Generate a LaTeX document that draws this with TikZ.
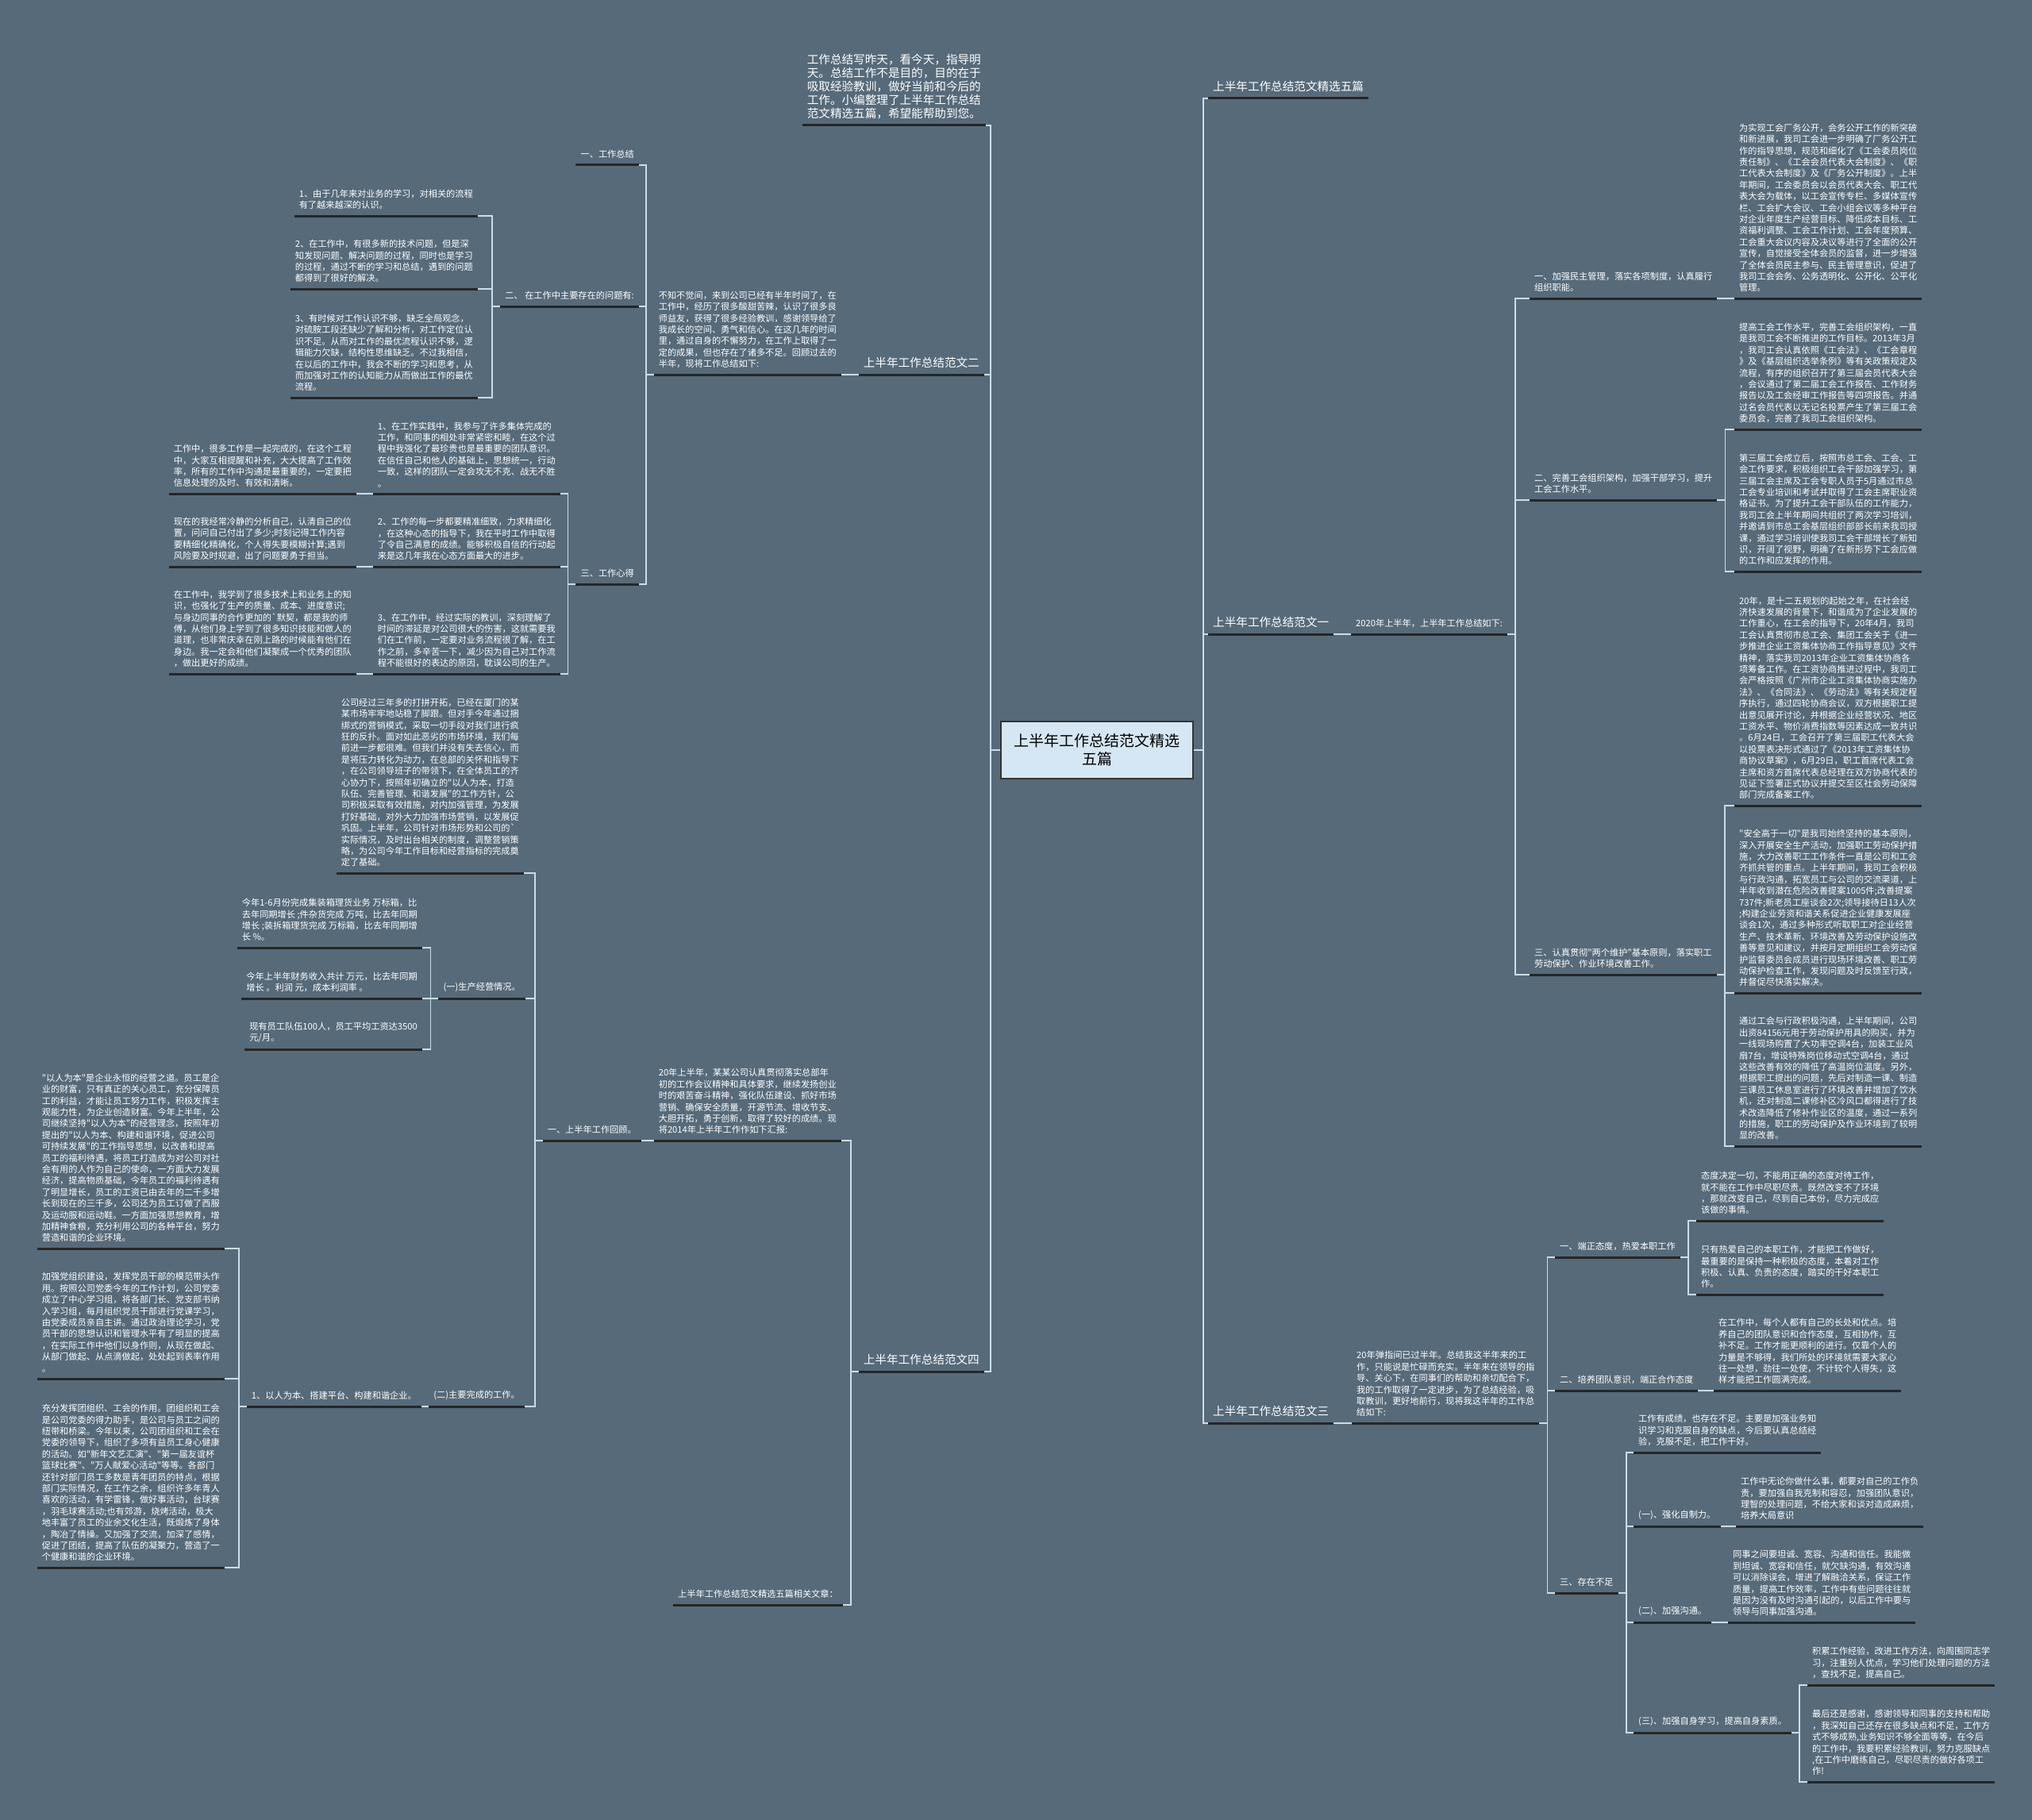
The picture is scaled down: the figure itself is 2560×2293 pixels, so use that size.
\documentclass[tikz,border=0pt]{standalone}
\usepackage{fontspec}
\newfontfamily\cjk{Noto Sans CJK SC}
\definecolor{bgslate}{HTML}{566A7A}
\definecolor{linkblue}{HTML}{C9DDEB}
\definecolor{rootfill}{HTML}{D5E7F4}

\begin{document}
\begin{tikzpicture}[
      x=1pt, y=-1pt,
      txt/.style={text=white, align=left, inner xsep=6pt, inner ysep=8pt,
                  font=\cjk\fontsize{11.2}{14.4}\selectfont},
      big/.style={txt, font=\cjk\fontsize{14.6}{17}\selectfont},
      lft/.style={anchor=south east},
      rgt/.style={anchor=south west},
      root/.style={rectangle, draw=black!80, line width=1.5pt, fill=rootfill,
                   align=center, minimum width=242pt, minimum height=72pt,
                   font=\cjk\fontsize{19}{23}\selectfont},
      uline/.style={line width=3pt, black!85},
      link/.style={line width=1.8pt, linkblue}
    ]
    \fill[bgslate] (0,0) rectangle (2560,2293);
    \useasboundingbox (0,0) rectangle (2560,2293);

    \node[root] (main) at (1382,945) {上半年工作总结范文精选\\五篇};

    % left half
    \node[big, lft] (intro) at (1242,158) {工作总结写昨天，看今天，指导明\\天。总结工作不是目的，目的在于\\吸取经验教训，做好当前和今后的\\工作。小编整理了上半年工作总结\\范文精选五篇，希望能帮助到您。};
    \node[big, lft] (fwtwo) at (1240,472) {上半年工作总结范文二};
    \node[big, lft] (fwfour) at (1240,1728) {上半年工作总结范文四};

    \node[txt, lft] (bzbj) at (1060,472) {不知不觉间，来到公司已经有半年时间了，在\\工作中，经历了很多酸甜苦辣，认识了很多良\\师益友，获得了很多经验教训，感谢领导给了\\我成长的空间、勇气和信心。在这几年的时间\\里，通过自身的不懈努力，在工作上取得了一\\定的成果，但也存在了诸多不足。回顾过去的\\半年，现将工作总结如下:};
    \node[txt, lft] (gzone) at (805,208) {一、工作总结};
    \node[txt, lft] (gztwo) at (805,386) {二、 在工作中主要存在的问题有:};
    \node[txt, lft] (gzthree) at (805,736) {三、工作心得};

    \node[txt, lft] (wtone) at (602,272) {1、由于几年来对业务的学习，对相关的流程\\有了越来越深的认识。};
    \node[txt, lft] (wttwo) at (602,364) {2、在工作中，有很多新的技术问题，但是深\\知发现问题、解决问题的过程，同时也是学习\\的过程，通过不断的学习和总结，遇到的问题\\都得到了很好的解决。};
    \node[txt, lft] (wtthree) at (602,501) {3、有时候对工作认识不够，缺乏全局观念，\\对硫胺工段还缺少了解和分析，对工作定位认\\识不足。从而对工作的最优流程认识不够，逻\\辑能力欠缺，结构性思维缺乏。不过我相信，\\在以后的工作中，我会不断的学习和思考，从\\而加强对工作的认知能力从而做出工作的最优\\流程。};

    \node[txt, lft] (xdone) at (706,622) {1、在工作实践中，我参与了许多集体完成的\\工作，和同事的相处非常紧密和睦，在这个过\\程中我强化了最珍贵也是最重要的团队意识。\\在信任自己和他人的基础上，思想统一，行动\\一致，这样的团队一定会攻无不克、战无不胜\\。};
    \node[txt, lft] (xdtwo) at (706,714) {2、工作的每一步都要精准细致，力求精细化\\，在这种心态的指导下，我在平时工作中取得\\了令自己满意的成绩。能够积极自信的行动起\\来是这几年我在心态方面最大的进步。};
    \node[txt, lft] (xdthree) at (706,849) {3、在工作中，经过实际的教训，深刻理解了\\时间的滞延是对公司很大的伤害，这就需要我\\们在工作前，一定要对业务流程很了解，在工\\作之前，多辛苦一下，减少因为自己对工作流\\程不能很好的表达的原因，耽误公司的生产。};
    \node[txt, lft] (tdone) at (449,622) {工作中，很多工作是一起完成的，在这个工程\\中，大家互相提醒和补充，大大提高了工作效\\率，所有的工作中沟通是最重要的，一定要把\\信息处理的及时、有效和清晰。};
    \node[txt, lft] (tdtwo) at (449,714) {现在的我经常冷静的分析自己，认清自己的位\\置，问问自己付出了多少;时刻记得工作内容\\要精细化精确化，个人得失要模糊计算;遇到\\风险要及时规避，出了问题要勇于担当。};
    \node[txt, lft] (tdthree) at (449,849) {在工作中，我学到了很多技术上和业务上的知\\识，也强化了生产的质量、成本、进度意识;\\与身边同事的合作更加的\textasciigrave 默契，都是我的师\\傅，从他们身上学到了很多知识技能和做人的\\道理，也非常庆幸在刚上路的时候能有他们在\\身边。我一定会和他们凝聚成一个优秀的团队\\，做出更好的成绩。};

    \node[txt, lft] (hbzj) at (1060,1437) {20年上半年，某某公司认真贯彻落实总部年\\初的工作会议精神和具体要求，继续发扬创业\\时的艰苦奋斗精神，强化队伍建设、抓好市场\\营销、确保安全质量，开源节流、增收节支、\\大胆开拓，勇于创新，取得了较好的成绩。现\\将2014年上半年工作作如下汇报:};
    \node[txt, lft] (xgwz) at (1062,2022) {上半年工作总结范文精选五篇相关文章：};
    \node[txt, lft] (hgu) at (808,1437) {一、上半年工作回顾。};
    \node[txt, lft] (gsjg) at (660,1100) {公司经过三年多的打拼开拓，已经在厦门的某\\某市场牢牢地站稳了脚跟。但对手今年通过捆\\绑式的营销模式，采取一切手段对我们进行疯\\狂的反扑。面对如此恶劣的市场环境，我们每\\前进一步都很难。但我们并没有失去信心，而\\是将压力转化为动力，在总部的关怀和指导下\\，在公司领导班子的带领下，在全体员工的齐\\心协力下，按照年初确立的"以人为本，打造\\队伍、完善管理、和谐发展"的工作方针，公\\司积极采取有效措施，对内加强管理，为发展\\打好基础，对外大力加强市场营销，以发展促\\巩固。上半年，公司针对市场形势和公司的\textasciigrave\\实际情况，及时出台相关的制度，调整营销策\\略，为公司今年工作目标和经营指标的完成奠\\定了基础。};
    \node[txt, lft] (scjy) at (662,1258) {(一)生产经营情况。};
    \node[txt, lft] (zywc) at (661,1772) {(二)主要完成的工作。};
    \node[txt, lft] (sjone) at (532,1194) {今年1-6月份完成集装箱理货业务 万标箱，比\\去年同期增长 ;件杂货完成 万吨，比去年同期\\增长 ;装拆箱理货完成 万标箱，比去年同期增\\长 \%。};
    \node[txt, lft] (sjtwo) at (532,1258) {今年上半年财务收入共计 万元，比去年同期\\增长 。利润 元，成本利润率 。};
    \node[txt, lft] (sjthree) at (532,1322) {现有员工队伍100人，员工平均工资达3500\\元/月。};
    \node[txt, lft] (yrwb) at (531,1772) {1、以人为本、搭建平台、构建和谐企业。};
    \node[txt, lft] (hxone) at (283,1573) {"以人为本"是企业永恒的经营之道。员工是企\\业的财富，只有真正的关心员工，充分保障员\\工的利益，才能让员工努力工作，积极发挥主\\观能力性，为企业创造财富。今年上半年，公\\司继续坚持"以人为本"的经营理念，按照年初\\提出的"以人为本、构建和谐环境，促进公司\\可持续发展"的工作指导思想，以改善和提高\\员工的福利待遇，将员工打造成为对公司对社\\会有用的人作为自己的使命，一方面大力发展\\经济，提高物质基础，今年员工的福利待遇有\\了明显增长，员工的工资已由去年的二千多增\\长到现在的三千多，公司还为员工订做了西服\\及运动服和运动鞋。一方面加强思想教育，增\\加精神食粮，充分利用公司的各种平台，努力\\营造和谐的企业环境。};
    \node[txt, lft] (hxtwo) at (283,1737) {加强党组织建设，发挥党员干部的模范带头作\\用。按照公司党委今年的工作计划，公司党委\\成立了中心学习组，将各部门长、党支部书纳\\入学习组，每月组织党员干部进行党课学习，\\由党委成员亲自主讲。通过政治理论学习，党\\员干部的思想认识和管理水平有了明显的提高\\，在实际工作中他们以身作则，从现在做起、\\从部门做起、从点滴做起，处处起到表率作用\\。};
    \node[txt, lft] (hxthree) at (283,1975) {充分发挥团组织、工会的作用。团组织和工会\\是公司党委的得力助手，是公司与员工之间的\\纽带和桥梁。今年以来，公司团组织和工会在\\党委的领导下，组织了多项有益员工身心健康\\的活动。如"新年文艺汇演"、"第一届友谊杯\\篮球比赛"、"万人献爱心活动"等等。各部门\\还针对部门员工多数是青年团员的特点，根据\\部门实际情况，在工作之余，组织许多年青人\\喜欢的活动，有学雷锋，做好事活动，台球赛\\，羽毛球赛活动;也有郊游，烧烤活动，极大\\地丰富了员工的业余文化生活，既煅炼了身体\\，陶冶了情操。又加强了交流，加深了感情，\\促进了团结，提高了队伍的凝聚力，营造了一\\个健康和谐的企业环境。};

    % right half
    \node[big, rgt] (rtitle) at (1522,124) {上半年工作总结范文精选五篇};
    \node[big, rgt] (rone) at (1522,799) {上半年工作总结范文一};
    \node[big, rgt] (rthree) at (1522,1793) {上半年工作总结范文三};
    \node[txt, rgt] (rnian) at (1702,799) {2020年上半年，上半年工作总结如下:};
    \node[txt, rgt] (ra) at (1927,376) {一、加强民主管理，落实各项制度，认真履行\\组织职能。};
    \node[txt, rgt] (rb) at (1927,630) {二、完善工会组织架构，加强干部学习，提升\\工会工作水平。};
    \node[txt, rgt] (rc) at (1927,1228) {三、认真贯彻"两个维护"基本原则，落实职工\\劳动保护、作业环境改善工作。};
    \node[txt, rgt] (raone) at (2185,376) {为实现工会厂务公开，会务公开工作的新突破\\和新进展，我司工会进一步明确了厂务公开工\\作的指导思想，规范和细化了《工会委员岗位\\责任制》、《工会会员代表大会制度》、《职\\工代表大会制度》及《厂务公开制度》。上半\\年期间，工会委员会以会员代表大会、职工代\\表大会为载体，以工会宣传专栏、多媒体宣传\\栏、工会扩大会议、工会小组会议等多种平台\\对企业年度生产经营目标、降低成本目标、工\\资福利调整、工会工作计划、工会年度预算、\\工会重大会议内容及决议等进行了全面的公开\\宣传，自觉接受全体会员的监督，进一步增强\\了全体会员民主参与、民主管理意识，促进了\\我司工会会务、公务透明化、公开化、公平化\\管理。};
    \node[txt, rgt] (rbone) at (2185,541) {提高工会工作水平，完善工会组织架构，一直\\是我司工会不断推进的工作目标。2013年3月\\，我司工会认真依照《工会法》、《工会章程\\》及《基层组织选举条例》等有关政策规定及\\流程，有序的组织召开了第三届会员代表大会\\，会议通过了第二届工会工作报告、工作财务\\报告以及工会经审工作报告等四项报告。并通\\过名会员代表以无记名投票产生了第三届工会\\委员会，完善了我司工会组织架构。};
    \node[txt, rgt] (rbtwo) at (2185,720) {第三届工会成立后，按照市总工会、工会、工\\会工作要求，积极组织工会干部加强学习，第\\三届工会主席及工会专职人员于5月通过市总\\工会专业培训和考试并取得了工会主席职业资\\格证书。为了提升工会干部队伍的工作能力，\\我司工会上半年期间共组织了两次学习培训，\\并邀请到市总工会基层组织部部长前来我司授\\课，通过学习培训使我司工会干部增长了新知\\识，开阔了视野，明确了在新形势下工会应做\\的工作和应发挥的作用。};
    \node[txt, rgt] (rcone) at (2185,1015) {20年，是十二五规划的起始之年，在社会经\\济快速发展的背景下，和谐成为了企业发展的\\工作重心，在工会的指导下，20年4月，我司\\工会认真贯彻市总工会、集团工会关于《进一\\步推进企业工资集体协商工作指导意见》文件\\精神，落实我司2013年企业工资集体协商各\\项筹备工作。在工资协商推进过程中，我司工\\会严格按照《广州市企业工资集体协商实施办\\法》、《合同法》、《劳动法》等有关规定程\\序执行，通过四轮协商会议，双方根据职工提\\出意见展开讨论，并根据企业经营状况、地区\\工资水平、物价消费指数等因素达成一致共识\\。6月24日，工会召开了第三届职工代表大会\\以投票表决形式通过了《2013年工资集体协\\商协议草案》，6月29日，职工首席代表工会\\主席和资方首席代表总经理在双方协商代表的\\见证下签署正式协议并提交至区社会劳动保障\\部门完成备案工作。};
    \node[txt, rgt] (rctwo) at (2185,1251) {"安全高于一切"是我司始终坚持的基本原则，\\深入开展安全生产活动，加强职工劳动保护措\\施，大力改善职工工作条件一直是公司和工会\\齐抓共管的重点。上半年期间，我司工会积极\\与行政沟通，拓宽员工与公司的交流渠道，上\\半年收到潜在危险改善提案1005件;改善提案\\737件;新老员工座谈会2次;领导接待日13人次\\;构建企业劳资和谐关系促进企业健康发展座\\谈会1次，通过多种形式听取职工对企业经营\\生产、技术革新、环境改善及劳动保护设施改\\善等意见和建议，并按月定期组织工会劳动保\\护监督委员会成员进行现场环境改善、职工劳\\动保护检查工作，发现问题及时反馈至行政，\\并督促尽快落实解决。};
    \node[txt, rgt] (rcthree) at (2185,1444) {通过工会与行政积极沟通，上半年期间，公司\\出资84156元用于劳动保护用具的购买，并为\\一线现场购置了大功率空调4台，加装工业风\\扇7台，增设特殊岗位移动式空调4台，通过\\这些改善有效的降低了高温岗位温度。另外，\\根据职工提出的问题，先后对制造一课、制造\\三课员工休息室进行了环境改善并增加了饮水\\机，还对制造二课修补区冷风口都得进行了技\\术改造降低了修补作业区的温度，通过一系列\\的措施，职工的劳动保护及作业环境到了较明\\显的改善。};

    \node[txt, rgt] (tzj) at (1703,1793) {20年弹指间已过半年。总结我这半年来的工\\作，只能说是忙碌而充实。半年来在领导的指\\导、关心下，在同事们的帮助和亲切配合下，\\我的工作取得了一定进步，为了总结经验，吸\\取教训，更好地前行，现将我这半年的工作总\\结如下:};
    \node[txt, rgt] (tone) at (1959,1584) {一、端正态度，热爱本职工作};
    \node[txt, rgt] (ttwo) at (1959,1752) {二、培养团队意识，端正合作态度};
    \node[txt, rgt] (tthree) at (1959,2007) {三、存在不足};
    \node[txt, rgt] (toa) at (2137,1538) {态度决定一切，不能用正确的态度对待工作，\\就不能在工作中尽职尽责。既然改变不了环境\\，那就改变自己，尽到自己本份，尽力完成应\\该做的事情。};
    \node[txt, rgt] (tob) at (2137,1631) {只有热爱自己的本职工作，才能把工作做好，\\最重要的是保持一种积极的态度，本着对工作\\积极、认真、负责的态度，踏实的干好本职工\\作。};
    \node[txt, rgt] (twa) at (2159,1752) {在工作中，每个人都有自己的长处和优点。培\\养自己的团队意识和合作态度，互相协作，互\\补不足。工作才能更顺利的进行。仅靠个人的\\力量是不够得，我们所处的环境就需要大家心\\往一处想，劲往一处使，不计较个人得失，这\\样才能把工作圆满完成。};
    \node[txt, rgt] (tha) at (2058,1830) {工作有成绩，也存在不足。主要是加强业务知\\识学习和克服自身的缺点，今后要认真总结经\\验，克服不足，把工作干好。};
    \node[txt, rgt] (thb) at (2058,1923) {(一)、强化自制力。};
    \node[txt, rgt] (thc) at (2058,2044) {(二)、加强沟通。};
    \node[txt, rgt] (thd) at (2058,2183) {(三)、加强自身学习，提高自身素质。};
    \node[txt, rgt] (thbx) at (2187,1923) {工作中无论你做什么事，都要对自己的工作负\\责，要加强自我克制和容忍，加强团队意识，\\理智的处理问题，不给大家和谈对造成麻烦，\\培养大局意识};
    \node[txt, rgt] (thcx) at (2177,2044) {同事之间要坦诚、宽容、沟通和信任。我能做\\到坦诚、宽容和信任，就欠缺沟通，有效沟通\\可以消除误会，增进了解融洽关系，保证工作\\质量，提高工作效率，工作中有些问题往往就\\是因为没有及时沟通引起的，以后工作中要与\\领导与同事加强沟通。};
    \node[txt, rgt] (thdx) at (2277,2123) {积累工作经验，改进工作方法，向周围同志学\\习，注重别人优点，学习他们处理问题的方法\\，查找不足，提高自己。};
    \node[txt, rgt] (thdy) at (2277,2245) {最后还是感谢，感谢领导和同事的支持和帮助\\，我深知自己还存在很多缺点和不足，工作方\\式不够成熟,业务知识不够全面等等，在今后\\的工作中，我要积累经验教训，努力克服缺点\\,在工作中磨练自己，尽职尽责的做好各项工\\作!};

    % connectors
    \foreach \c in {intro, fwtwo, fwfour}
      \draw[link] (main.west) -- ++(-12,0) |- (\c.south east);
    \foreach \c in {rtitle, rone, rthree}
      \draw[link] (main.east) -- ++(12,0) |- (\c.south west);
    \foreach \p/\c in {fwtwo/bzbj, bzbj/gzone, bzbj/gztwo, bzbj/gzthree,
        gztwo/wtone, gztwo/wttwo, gztwo/wtthree,
        gzthree/xdone, gzthree/xdtwo, gzthree/xdthree,
        xdone/tdone, xdtwo/tdtwo, xdthree/tdthree,
        fwfour/hbzj, fwfour/xgwz, hbzj/hgu, hgu/gsjg, hgu/scjy, hgu/zywc,
        scjy/sjone, scjy/sjtwo, scjy/sjthree, zywc/yrwb,
        yrwb/hxone, yrwb/hxtwo, yrwb/hxthree}
      \draw[link] (\p.south west) -- ++(-10,0) |- (\c.south east);
    \foreach \p/\c in {rone/rnian, rnian/ra, rnian/rb, rnian/rc,
        ra/raone, rb/rbone, rb/rbtwo, rc/rcone, rc/rctwo, rc/rcthree,
        rthree/tzj, tzj/tone, tzj/ttwo, tzj/tthree,
        tone/toa, tone/tob, ttwo/twa,
        tthree/tha, tthree/thb, tthree/thc, tthree/thd,
        thb/thbx, thc/thcx, thd/thdx, thd/thdy}
      \draw[link] (\p.south east) -- ++(10,0) |- (\c.south west);

    % underlines
    \foreach \n in {intro, fwtwo, fwfour, bzbj, gzone, gztwo, gzthree,
        wtone, wttwo, wtthree, xdone, xdtwo, xdthree, tdone, tdtwo, tdthree,
        hbzj, xgwz, hgu, gsjg, scjy, zywc, sjone, sjtwo, sjthree, yrwb,
        hxone, hxtwo, hxthree, rtitle, rone, rthree, rnian, ra, rb, rc,
        raone, rbone, rbtwo, rcone, rctwo, rcthree, tzj, tone, ttwo, tthree,
        toa, tob, twa, tha, thb, thc, thd, thbx, thcx, thdx, thdy}
      \draw[uline] (\n.south west) -- (\n.south east);
  \end{tikzpicture}
\end{document}
